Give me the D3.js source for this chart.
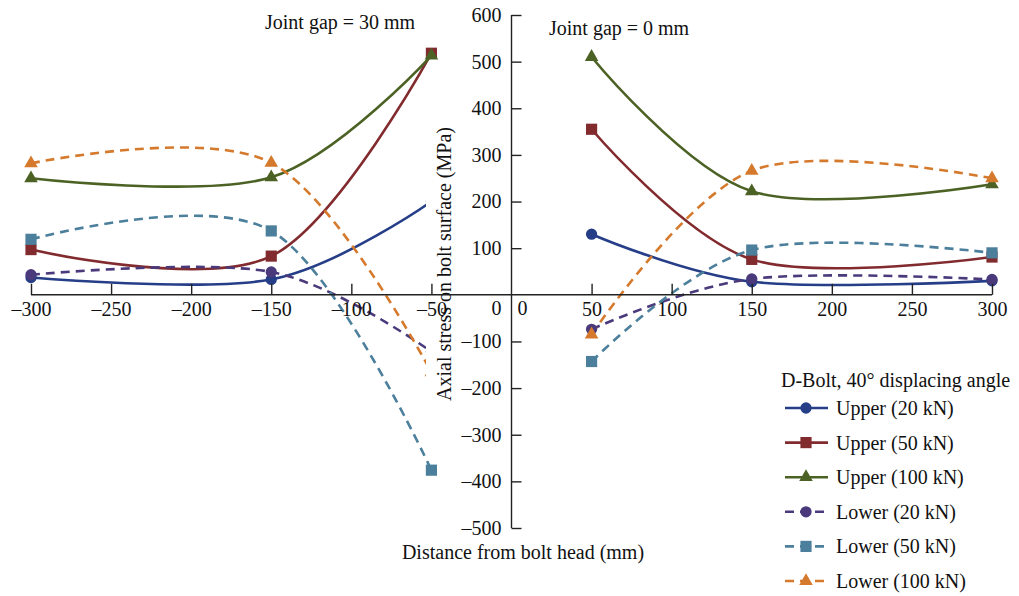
<!DOCTYPE html>
<html><head><meta charset="utf-8">
<script src="https://cdn.jsdelivr.net/npm/d3@7"></script>
<style>
html,body{margin:0;padding:0;background:#fff;}
svg text{font-family:"Liberation Serif","Times New Roman",serif !important;}
</style></head>
<body><svg id="c" width="1019" height="596"></svg>
<script>
// ---- data ----
const xLeft = [-300, -150, -50];      // Joint gap = 30 mm
const xRight = [50, 150, 300];        // Joint gap = 0 mm
const seriesNames = ["Upper (20 kN)", "Upper (50 kN)", "Upper (100 kN)", "Lower (20 kN)", "Lower (50 kN)", "Lower (100 kN)"];
const upper20Left  = [37, 33, 200];   const upper20Right  = [130, 28, 30];
const upper50Left  = [97, 83, 518];   const upper50Right  = [355, 76, 81];
const upper100Left = [250, 252, 513]; const upper100Right = [510, 222, 237];
const lower20Left  = [43, 49, -122];  const lower20Right  = [-74, 34, 33];
const lower50Left  = [119, 137, -376];const lower50Right  = [-143, 96, 90];
const lower100Left = [282, 283, -166];const lower100Right = [-85, 266, 250];
const xTickValues = [-300, -250, -200, -150, -100, -50, 50, 100, 150, 200, 250, 300];
const yTickValues = [600, 500, 400, 300, 200, 100, -100, -200, -300, -400, -500];
const leftTitle = "Joint gap = 30 mm";
const rightTitle = "Joint gap = 0 mm";
const xTitle = "Distance from bolt head (mm)";
const yTitle = "Axial stress on bolt surface (MPa)";
const legendTitle = "D-Bolt, 40° displacing angle";

// ---- styles ----
const colors = ["#263e88", "#822b2f", "#4c6224", "#4a3a7c", "#4b7f9b", "#d57a2c"];
const dashed = [false, false, false, true, true, true];
const shapes = [d3.symbolCircle, d3.symbolSquare, d3.symbolTriangle, d3.symbolCircle, d3.symbolSquare, d3.symbolTriangle];
const shapeSizes = [100, 125, 80, 100, 125, 80];

const leftVals = [upper20Left, upper50Left, upper100Left, lower20Left, lower50Left, lower100Left];
const rightVals = [upper20Right, upper50Right, upper100Right, lower20Right, lower50Right, lower100Right];

const FONT = '"Liberation Serif","Times New Roman",serif';
const svg = d3.select("#c");
const x = d3.scaleLinear().domain([-300, 300]).range([31, 992]);
const y = d3.scaleLinear().domain([-500, 600]).range([528, 15]);
const FS = 20;
const fmt = d => d < 0 ? "\u2013" + Math.abs(d) : String(d);

const line = d3.line().x(d => x(d[0])).y(d => y(d[1])).curve(d3.curveCardinal.tension(0));

const plot = svg.append("g");
seriesNames.forEach((name, i) => {
  [[xLeft, leftVals[i]], [xRight, rightVals[i]]].forEach(([xs, vs]) => {
    const pts = xs.map((xv, k) => [xv, vs[k]]);
    plot.append("path").attr("d", line(pts)).attr("fill", "none")
      .attr("stroke", colors[i]).attr("stroke-width", 2.6)
      .attr("stroke-dasharray", dashed[i] ? "9,6" : null);
  });
});
seriesNames.forEach((name, i) => {
  [[xLeft, leftVals[i]], [xRight, rightVals[i]]].forEach(([xs, vs]) => {
    xs.forEach((xv, k) => {
      plot.append("path").attr("d", d3.symbol().type(shapes[i]).size(shapeSizes[i])())
        .attr("transform", `translate(${x(xv)},${y(vs[k])})`)
        .attr("fill", colors[i]);
    });
  });
});

function txt(sel) { return sel.style("font-family", FONT).style("font-size", FS + "px").attr("fill", "#111"); }

// white box behind y-axis title
svg.append("rect").attr("x", 426).attr("y", 124).attr("width", 29).attr("height", 280).attr("fill", "#fff");
txt(svg.append("text").attr("transform", "translate(451,264) rotate(-90)")
  .attr("text-anchor", "middle")).text(yTitle);

// x axis
const xAxis = svg.append("g").attr("transform", `translate(0,${y(0)})`)
  .call(d3.axisBottom(x).tickValues(xTickValues).tickSize(-11).tickPadding(0).tickFormat(fmt));
xAxis.attr("font-family", null).attr("font-size", null);
xAxis.select(".domain").attr("stroke", "#222").attr("stroke-width", 1.4).attr("d", `M${x(-300)},0H${x(300)}`);
xAxis.selectAll(".tick line").attr("stroke", "#222").attr("stroke-width", 1.4);
txt(xAxis.selectAll(".tick text")).attr("y", 0).attr("dy", "1.05em");
txt(svg.append("text").attr("x", x(0) + 11).attr("y", y(0) + 20).attr("text-anchor", "middle")).text("0");

// y axis
const yAxis = svg.append("g").attr("transform", `translate(${x(0)},0)`)
  .call(d3.axisLeft(y).tickValues(yTickValues).tickSize(-10).tickPadding(0).tickFormat(fmt));
yAxis.attr("font-family", null).attr("font-size", null);
yAxis.select(".domain").attr("stroke", "#222").attr("stroke-width", 1.4).attr("d", `M0,${y(600)}V${y(-500)}`);
yAxis.selectAll(".tick line").attr("stroke", "#222").attr("stroke-width", 1.4);
txt(yAxis.selectAll(".tick text")).attr("x", -10);
txt(svg.append("text").attr("x", x(0) - 10).attr("y", y(0) + 20).attr("text-anchor", "end")).text("0");

// titles
txt(svg.append("text").attr("x", 265).attr("y", 29)).text(leftTitle);
txt(svg.append("text").attr("x", 549).attr("y", 35)).text(rightTitle);
txt(svg.append("text").attr("x", 523).attr("y", 559).attr("text-anchor", "middle")).text(xTitle);

// legend
const lg = svg.append("g");
txt(lg.append("text").attr("x", 781).attr("y", 387)).text(legendTitle);
seriesNames.forEach((name, i) => {
  const cy = 408 + i * 34.6;
  lg.append("line").attr("x1", 785).attr("x2", 828).attr("y1", cy).attr("y2", cy)
    .attr("stroke", colors[i]).attr("stroke-width", 2.6)
    .attr("stroke-dasharray", dashed[i] ? "9,6" : null);
  lg.append("path").attr("d", d3.symbol().type(shapes[i]).size(shapeSizes[i])())
    .attr("transform", `translate(806,${cy})`).attr("fill", colors[i]);
  txt(lg.append("text").attr("x", 836).attr("y", cy + 7)).text(name);
});
</script></body></html>
